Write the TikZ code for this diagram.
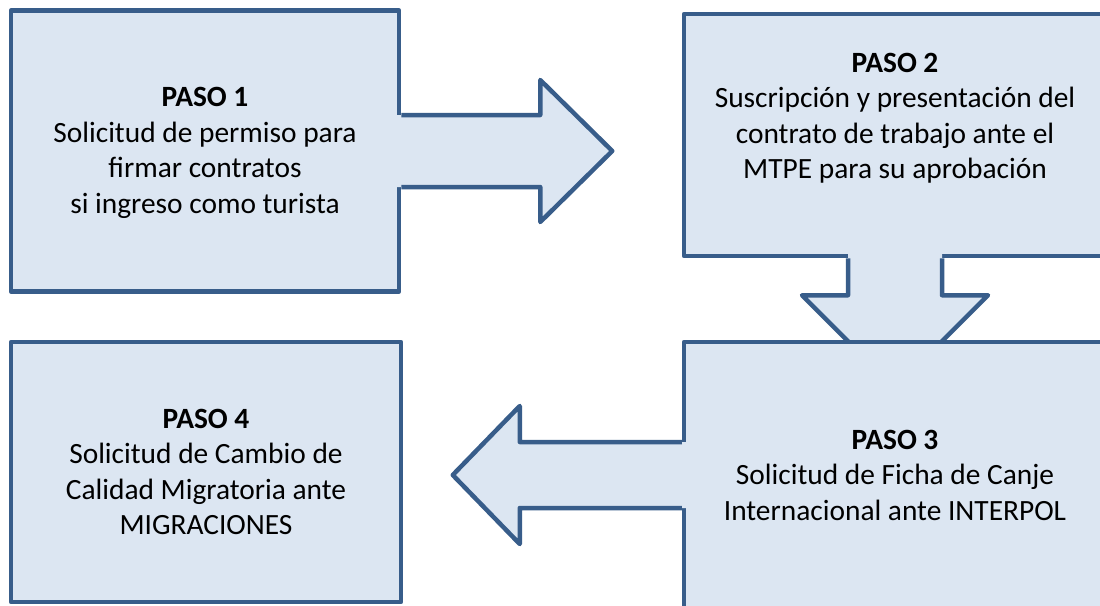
\documentclass[tikz,border=0pt]{standalone}
\usepackage{fontspec}
\setmainfont{Carlito}
\usetikzlibrary{calc}
\definecolor{pasofill}{HTML}{DCE6F2}
\definecolor{pasoline}{HTML}{385D8A}

\begin{document}
\begin{tikzpicture}[x=1pt,y=-1pt,line width=4.5pt,line join=round,
    paso/.style={draw=pasoline,fill=pasofill,inner sep=0pt},
    pasotext/.style={align=center,font=\fontsize{29.4}{35.5}\selectfont},
    flecha/.style={fill=pasofill},
    borde/.style={draw=pasoline}]
   \useasboundingbox (0,0) rectangle (1100,605);
   \clip (0,0) rectangle (1100,605);

   \node[paso,minimum width=388pt,minimum height=281pt] (p1) at (205,151) {};
   \node[paso,minimum width=422pt,minimum height=242pt] (p2) at (895,135) {};
   \node[paso,minimum width=390pt,minimum height=260pt] (p4) at (206,472) {};

   \fill[flecha] ($(p2.south)+(-47,-6)$) -- ++(0,43) -- ++(-46,0) -- ($(p2.south)+(0,130)$)
      -- ($(p2.south)+(93,37)$) -- ++(-46,0) -- ++(0,-43) -- cycle;
   \draw[borde] ($(p2.south)+(-47,0)$) -- ++(0,37) -- ++(-46,0) -- ($(p2.south)+(0,130)$)
      -- ($(p2.south)+(93,37)$) -- ++(-46,0) -- ++(0,-37);

   \node[paso,minimum width=422pt,minimum height=266pt] (p3) at (895,475) {};

   \fill[flecha] ($(p3.west)+(6,-33)$) -- ++(-168,0) -- ++(0,-36) -- ($(p3.west)+(-229,0)$)
      -- ($(p3.west)+(-162,69)$) -- ++(0,-36) -- ++(168,0) -- cycle;
   \draw[borde] ($(p3.west)+(0,-33)$) -- ++(-162,0) -- ++(0,-36) -- ($(p3.west)+(-229,0)$)
      -- ($(p3.west)+(-162,69)$) -- ++(0,-36) -- ++(162,0);

   \fill[flecha] ($(p1.east)+(-6,-36)$) -- ++(145,0) -- ++(0,-35) -- ($(p1.east)+(211,0)$)
      -- ($(p1.east)+(139,71)$) -- ++(0,-35) -- ++(-145,0) -- cycle;
   \draw[borde] ($(p1.east)+(0,-36)$) -- ++(139,0) -- ++(0,-35) -- ($(p1.east)+(211,0)$)
      -- ($(p1.east)+(139,71)$) -- ++(0,-35) -- ++(-139,0);

   \node[pasotext] (t1) at ($(p1.center)+(0,2)$) {\textbf{PASO 1}\\Solicitud de permiso para\\firmar contratos\\si ingreso como turista};
   \node[pasotext] (t2) at ($(p2.center)+(0,-17)$) {\textbf{PASO 2}\\Suscripción y presentación del\\contrato de trabajo ante el\\MTPE para su aprobación};
   \node[pasotext] (t3) at (p3.center) {\textbf{PASO 3}\\Solicitud de Ficha de Canje\\Internacional ante INTERPOL};
   \node[pasotext] (t4) at (p4.center) {\textbf{PASO 4}\\Solicitud de Cambio de\\Calidad Migratoria ante\\MIGRACIONES};
\end{tikzpicture}
\end{document}
